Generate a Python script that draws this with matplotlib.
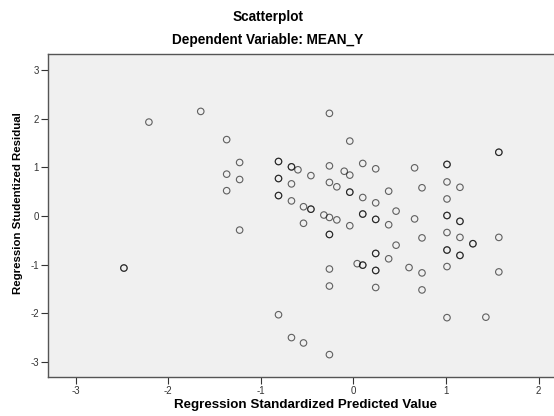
import matplotlib
matplotlib.use("Agg")
import matplotlib.pyplot as plt

plt.rcParams['font.family'] = ['Liberation Sans', 'DejaVu Sans']

# Standardized predicted values (x) and studentized residuals (y).
# Points that look darker in the reference are overlapping duplicates, listed twice.
pred = [
    -2.48, -2.48,
    -2.21,
    -1.65,
    -1.37, -1.37, -1.37,
    -1.23, -1.23, -1.23,
    -0.81, -0.81, -0.81, -0.81, -0.81, -0.81, -0.81,
    -0.67, -0.67, -0.67, -0.67, -0.67,
    -0.60,
    -0.54, -0.54, -0.54,
    -0.46, -0.46, -0.46,
    -0.32,
    -0.26, -0.26, -0.26, -0.26, -0.26, -0.26, -0.26, -0.26, -0.26,
    -0.18, -0.18,
    -0.10,
    -0.04, -0.04, -0.04, -0.04, -0.04,
    0.04,
    0.10, 0.10, 0.10, 0.10, 0.10, 0.10,
    0.24, 0.24, 0.24, 0.24, 0.24, 0.24, 0.24, 0.24, 0.24,
    0.38, 0.38, 0.38,
    0.46, 0.46,
    0.60,
    0.66, 0.66,
    0.74, 0.74, 0.74, 0.74,
    1.01, 1.01, 1.01, 1.01, 1.01, 1.01, 1.01, 1.01, 1.01, 1.01, 1.01,
    1.15, 1.15, 1.15, 1.15, 1.15, 1.15,
    1.29, 1.29,
    1.43,
    1.57, 1.57, 1.57, 1.57,
]
resid = [
    -1.07, -1.07,
    1.93,
    2.15,
    1.57, 0.86, 0.52,
    1.10, 0.75, -0.29,
    1.12, 1.12, 0.77, 0.77, 0.42, 0.42, -2.03,
    1.01, 1.01, 0.66, 0.31, -2.50,
    0.95,
    0.19, -0.15, -2.61,
    0.83, 0.14, 0.14,
    0.02,
    2.11, 1.03, 0.69, -0.03, -0.38, -0.38, -1.09, -1.44, -2.85,
    0.60, -0.08,
    0.92,
    1.54, 0.84, 0.49, 0.49, -0.20,
    -0.98,
    1.08, 0.38, 0.04, 0.04, -1.01, -1.01,
    0.97, 0.27, -0.07, -0.07, -0.77, -0.77, -1.12, -1.12, -1.47,
    0.51, -0.18, -0.88,
    0.10, -0.60,
    -1.06,
    0.99, -0.06,
    0.58, -0.45, -1.17, -1.52,
    1.06, 1.06, 0.70, 0.35, 0.01, 0.01, -0.34, -0.70, -0.70, -1.04, -2.09,
    0.59, -0.11, -0.11, -0.44, -0.81, -0.81,
    -0.57, -0.57,
    -2.08,
    1.31, 1.31, -0.44, -1.15,
]

x_ticks = [-3, -2, -1, 0, 1, 2]
y_ticks = [-3, -2, -1, 0, 1, 2, 3]

W, H = 554, 416
fig = plt.figure(figsize=(W / 100, H / 100), dpi=100)
fig.patch.set_facecolor('white')

left, right, top, bottom = 48, 554, 54, 377
ax = fig.add_axes([left / W, 1 - bottom / H, (right - left) / W, (bottom - top) / H])
ax.set_facecolor('#f0f0f0')

ax.scatter(pred, resid, s=22, facecolors='none', edgecolors='black',
           linewidths=0.8, alpha=0.6, zorder=3)

ax.set_xlim(-3.30, 2.166)
ax.set_ylim(-3.31, 3.33)
ax.set_xticks(x_ticks)
ax.set_yticks(y_ticks)
ax.set_xticklabels([str(t) for t in x_ticks])
ax.set_yticklabels([str(t) for t in y_ticks])
ax.tick_params(axis='both', direction='out', length=5, width=0.8,
               labelsize=7, pad=1.5, colors='#333333')

for side in ['left', 'bottom', 'top']:
    ax.spines[side].set_color('#555555')
    ax.spines[side].set_linewidth(1.0)
ax.spines['right'].set_visible(False)

fig.text(268 / W, 1 - 17 / H, 'Scatterplot', ha='center', va='center',
         fontsize=9.8, fontweight='bold')
fig.text(268 / W, 1 - 40 / H, 'Dependent Variable: MEAN_Y', ha='center',
         va='center', fontsize=9.8, fontweight='bold')
fig.text(305 / W, 1 - 405 / H, 'Regression Standardized Predicted Value',
         ha='center', va='center', fontsize=9.6, fontweight='bold')
fig.text(18 / W, 1 - 203 / H, 'Regression Studentized Residual',
         ha='center', va='center', rotation=90, fontsize=8.2,
         fontweight='bold')

fig.savefig('out.png', dpi=100)
